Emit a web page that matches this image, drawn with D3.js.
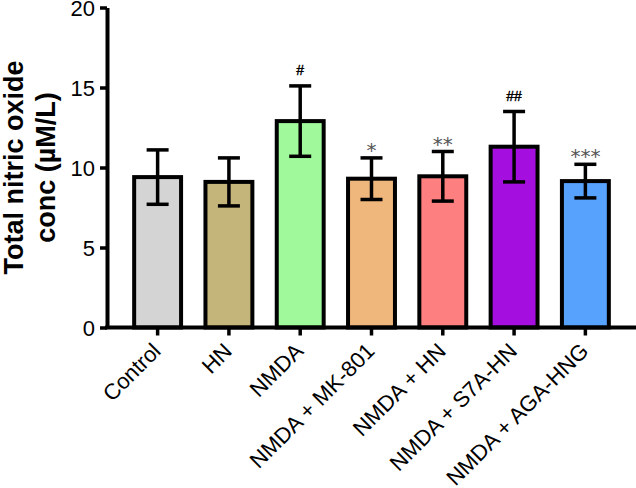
<!DOCTYPE html>
<html>
<head>
<meta charset="utf-8">
<script src="https://cdn.jsdelivr.net/npm/d3@7"></script>
<style>
  html, body { margin: 0; padding: 0; background: #fff; }
  svg { display: block; }
</style>
</head>
<body>
<svg id="chart" width="636" height="488"></svg>
<script>
const categories = ["Control", "HN", "NMDA", "NMDA + MK-801", "NMDA + HN", "NMDA + S7A-HN", "NMDA + AGA-HNG"];
const means = [9.4, 9.1, 12.9, 9.3, 9.45, 11.3, 9.15];
const sds = [1.7, 1.5, 2.2, 1.3, 1.55, 2.2, 1.05];
const marks = ["", "", "#", "*", "**", "##", "***"];
const barColors = ["#d4d4d4", "#c4b67b", "#a0fa9c", "#f0b77c", "#fe7f7f", "#a40fe0", "#56a2fd"];
const yTicks = [0, 5, 10, 15, 20];
const yTitle = ["Total nitric oxide", "conc (\u00b5M/L)"];

const svg = d3.select("#chart");
const x = d3.scaleBand().domain(categories).range([107, 636]).paddingInner(0.342).paddingOuter(0.381);
const y = d3.scaleLinear().domain([0, 20]).range([327.5, 7.5]);

const data = categories.map((c, i) => ({ c, m: means[i], s: sds[i], mark: marks[i], col: barColors[i] }));

// bars
svg.append("g").selectAll("rect").data(data).join("rect")
  .attr("x", d => x(d.c))
  .attr("width", x.bandwidth())
  .attr("y", d => y(d.m))
  .attr("height", d => y(0) - y(d.m))
  .attr("fill", d => d.col)
  .attr("stroke", "#000")
  .attr("stroke-width", 4);

// error bars
const eb = svg.append("g").selectAll("g").data(data).join("g");
const capW = 22;
const cx = d => x(d.c) + x.bandwidth() / 2;
eb.append("line")
  .attr("x1", cx).attr("x2", cx)
  .attr("y1", d => y(d.m + d.s)).attr("y2", d => y(d.m - d.s))
  .attr("stroke", "#000").attr("stroke-width", 3.5);
eb.append("line")
  .attr("x1", d => cx(d) - capW / 2).attr("x2", d => cx(d) + capW / 2)
  .attr("y1", d => y(d.m + d.s)).attr("y2", d => y(d.m + d.s))
  .attr("stroke", "#000").attr("stroke-width", 3.5);
eb.append("line")
  .attr("x1", d => cx(d) - capW / 2).attr("x2", d => cx(d) + capW / 2)
  .attr("y1", d => y(d.m - d.s)).attr("y2", d => y(d.m - d.s))
  .attr("stroke", "#000").attr("stroke-width", 3.5);

// significance marks
eb.filter(d => d.mark.startsWith("#")).append("text")
  .attr("x", cx)
  .attr("y", d => y(d.m + d.s) - 11)
  .attr("text-anchor", "middle")
  .attr("font-family", "Liberation Sans, Arial, sans-serif")
  .attr("font-size", 14)
  .attr("fill", "#000")
  .attr("stroke", "#000")
  .attr("stroke-width", 0.4)
  .text(d => d.mark);
eb.filter(d => d.mark.startsWith("*")).append("text")
  .attr("x", cx)
  .attr("y", d => y(d.m + d.s) - 1)
  .attr("text-anchor", "middle")
  .attr("font-family", "DejaVu Sans, sans-serif")
  .attr("font-size", 20)
  .attr("fill", "#555")
  .text(d => d.mark);

// y axis
const yAxis = d3.axisLeft(y).tickValues(yTicks).tickSize(7).tickSizeOuter(0).tickPadding(5);
const gy = svg.append("g").attr("transform", "translate(107,0)").call(yAxis);
gy.select(".domain").attr("stroke", "#000").attr("stroke-width", 4);
gy.selectAll(".tick line").attr("stroke", "#000").attr("stroke-width", 3.5);
gy.selectAll(".tick text").attr("font-family", "Liberation Sans, Arial, sans-serif").attr("font-size", 22).attr("fill", "#000").attr("dy", "0.36em");

// x axis
const xAxis = d3.axisBottom(x).tickSize(8).tickSizeOuter(0).tickFormat("");
const gx = svg.append("g").attr("transform", "translate(0,327.5)").call(xAxis);
gx.select(".domain").attr("stroke", "#000").attr("stroke-width", 4).attr("d", "M105,0H636");
gx.selectAll(".tick line").attr("stroke", "#000").attr("stroke-width", 3.5);

// x labels rotated
svg.append("g").selectAll("text").data(categories).join("text")
  .attr("transform", d => `translate(${x(d) + x.bandwidth() / 2 - 1},347) rotate(-45)`)
  .attr("text-anchor", "end")
  .attr("dy", "0.35em")
  .attr("font-family", "Liberation Sans, Arial, sans-serif")
  .attr("font-size", 22)
  .attr("fill", "#000")
  .text(d => d);

// y title
const yt = svg.append("text")
  .attr("transform", "translate(0,167.5) rotate(-90)")
  .attr("text-anchor", "middle")
  .attr("font-family", "Liberation Sans, Arial, sans-serif")
  .attr("font-weight", "bold")
  .attr("font-size", 27)
  .attr("fill", "#000");
yt.selectAll("tspan").data(yTitle).join("tspan")
  .attr("x", 0)
  .attr("y", (d, i) => 23 + i * 32)
  .text(d => d);
</script>
</body>
</html>
